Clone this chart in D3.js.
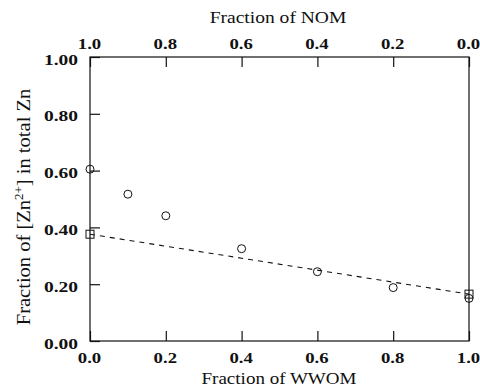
<!DOCTYPE html>
<html>
<head>
<meta charset="utf-8">
<script src="https://cdn.jsdelivr.net/npm/d3@7"></script>
<style>
  body { margin: 0; background: #fff; }
  svg { display: block; }
</style>
</head>
<body>
<div id="chart"></div>
<script>
// fraction of WWOM in the mixture
const wwomFractions = [0.0, 0.1, 0.2, 0.4, 0.6, 0.8, 1.0]
// measured fraction of free Zn2+ (circles)
const measuredZn = [0.605, 0.517, 0.441, 0.325, 0.244, 0.188, 0.150]
// end members (squares) joined by the dashed mixing line
const endFractions = [0.0, 1.0]
const endZn = [0.376, 0.165]

const bottomTicks = [0.0, 0.2, 0.4, 0.6, 0.8, 1.0]
const topTicks = [1.0, 0.8, 0.6, 0.4, 0.2, 0.0]
const leftTicks = [0.0, 0.2, 0.4, 0.6, 0.8, 1.0]

const width = 480
const height = 389
const margin = { top: 57, right: 11, bottom: 48, left: 90 }
const serif = "'Liberation Serif', 'Times New Roman', serif"
const ink = '#111'

const svg = d3.select('#chart').append('svg')
    .attr('width', width)
    .attr('height', height)

const x = d3.scaleLinear().domain([0, 1]).range([margin.left, width - margin.right])
const xTop = d3.scaleLinear().domain([1, 0]).range([margin.left, width - margin.right])
const y = d3.scaleLinear().domain([0, 1]).range([height - margin.bottom, margin.top])

// frame
svg.append('rect')
    .attr('x', x(0)).attr('y', y(1))
    .attr('width', x(1) - x(0)).attr('height', y(0) - y(1))
    .attr('fill', 'none').attr('stroke', ink).attr('stroke-width', 1.2)

function styleAxis(g, labelTransform, anchor) {
    g.select('.domain').remove()
    g.selectAll('.tick line').attr('stroke', ink).attr('stroke-width', 1.2)
    g.selectAll('.tick text')
        .attr('x', null).attr('y', null).attr('dy', null)
        .attr('text-anchor', anchor)
        .attr('transform', labelTransform)
        .attr('fill', ink)
        .style('font-family', serif)
        .style('font-size', '15px')
        .style('font-weight', 'bold')
}

svg.append('g')
    .attr('transform', `translate(0, ${y(0)})`)
    .call(d3.axisBottom(x).tickValues(bottomTicks).tickSize(-10).tickFormat(d3.format('.1f')))
    .call(g => styleAxis(g, 'translate(-1, 22) scale(1.25, 1)', 'middle'))

svg.append('g')
    .attr('transform', `translate(0, ${y(1)})`)
    .call(d3.axisTop(xTop).tickValues(topTicks).tickSize(-10).tickFormat(d3.format('.1f')))
    .call(g => styleAxis(g, 'translate(-1, -8) scale(1.25, 1)', 'middle'))

svg.append('g')
    .attr('transform', `translate(${x(0)}, 0)`)
    .call(d3.axisLeft(y).tickValues(leftTicks).tickSize(-10).tickFormat(d3.format('.2f')))
    .call(g => styleAxis(g, 'translate(-12, 7) scale(1.3, 1)', 'end'))

// dashed mixing line between end members
const line = d3.line().x(d => x(d[0])).y(d => y(d[1]))
svg.append('path')
    .datum(d3.zip(endFractions, endZn))
    .attr('d', line)
    .attr('fill', 'none')
    .attr('stroke', ink)
    .attr('stroke-width', 1.1)
    .attr('stroke-dasharray', '5,5')

svg.append('g').selectAll('rect')
    .data(d3.zip(endFractions, endZn))
    .join('rect')
    .attr('x', d => x(d[0]) - 4)
    .attr('y', d => y(d[1]) - 4)
    .attr('width', 8).attr('height', 8)
    .attr('fill', 'none').attr('stroke', ink).attr('stroke-width', 1)

svg.append('g').selectAll('circle')
    .data(d3.zip(wwomFractions, measuredZn))
    .join('circle')
    .attr('cx', d => x(d[0]))
    .attr('cy', d => y(d[1]))
    .attr('r', 4)
    .attr('fill', 'none').attr('stroke', ink).attr('stroke-width', 1)

// axis titles
svg.append('text')
    .attr('transform', 'translate(278, 23) scale(1.15, 1)')
    .attr('text-anchor', 'middle')
    .attr('fill', ink)
    .style('font-family', serif)
    .style('font-size', '17px')
    .text('Fraction of NOM')

svg.append('text')
    .attr('transform', 'translate(279, 384) scale(1.12, 1)')
    .attr('text-anchor', 'middle')
    .attr('fill', ink)
    .style('font-family', serif)
    .style('font-size', '17px')
    .text('Fraction of WWOM')

const yTitle = svg.append('text')
    .attr('transform', 'translate(30, 207) rotate(-90) scale(1.08, 1)')
    .attr('text-anchor', 'middle')
    .attr('fill', ink)
    .style('font-family', serif)
    .style('font-size', '19px')
yTitle.append('tspan').text('Fraction of [Zn')
yTitle.append('tspan').attr('dy', -7).style('font-size', '12px').text('2+')
yTitle.append('tspan').attr('dy', 7).text('] in total Zn')
</script>
</body>
</html>
